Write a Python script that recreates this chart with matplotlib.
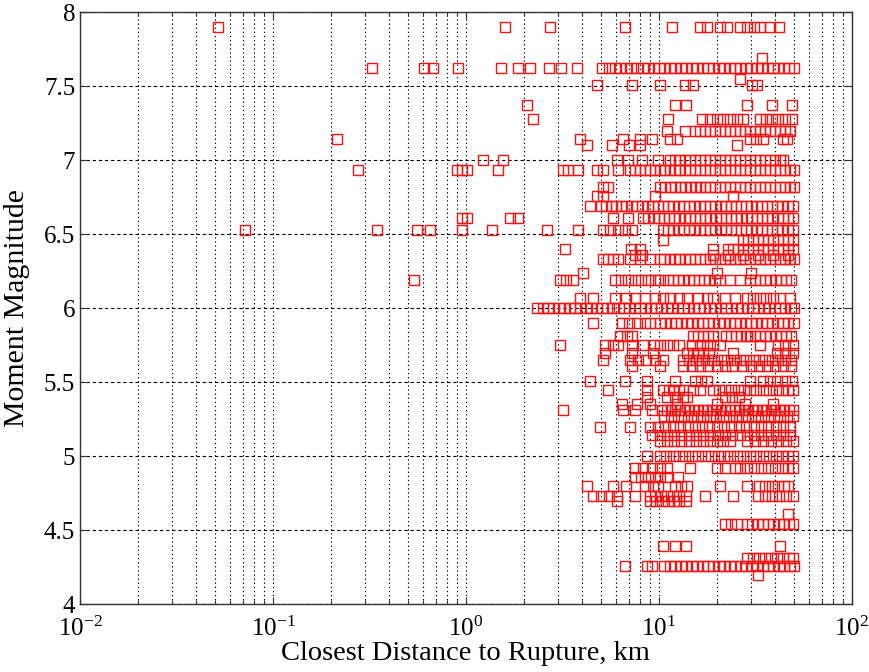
import matplotlib
matplotlib.use("Agg")
import matplotlib.pyplot as plt
import numpy as np
from matplotlib.ticker import LogLocator, FixedLocator

plt.rcParams['font.family'] = ['Liberation Serif', 'DejaVu Serif']
plt.rcParams['mathtext.fontset'] = 'custom'
plt.rcParams['mathtext.rm'] = 'Liberation Serif'

# closest distance to rupture (km) for each magnitude
rrup_790 = [0.052, 1.59, 2.72, 6.66, 11.7, 16.3, 17.7, 20.7, 22.5, 26.3, 28.6, 31.0, 33.4, 37.6, 41.8]
rrup_769 = [34.2]
rrup_762 = [0.326, 0.61, 0.674, 0.91, 1.52, 1.86, 2.15, 2.69, 3.1, 3.76,
            5.1, 5.5, 5.9, 6.3, 6.8, 7.2, 7.7, 8.3, 8.8, 9.4, 10.0, 10.7, 11.4, 12.2, 13.0,
            13.9, 14.8, 15.8, 16.9, 18.0, 19.2, 20.5, 21.9, 23.3, 24.9, 26.5, 28.3, 30.2,
            32.2, 34.3, 36.6, 39.1, 41.7, 44.4, 47.4, 50.0]
rrup_755 = [26.3]
rrup_751 = [4.77, 7.25, 10.1, 13.6, 15.0, 30.3, 32.2]
rrup_737 = [2.07, 12.2, 13.9, 28.6, 38.5, 49.0]
rrup_728 = [2.22, 11.1, 16.7, 18.5, 20.0, 21.5, 23.3, 25.3, 27.3, 33.3, 35.8, 38.5, 41.5, 45.0, 49.0]
rrup_720 = [11.0, 13.6, 15.4, 16.3, 17.3, 18.4, 19.5, 20.7, 22.0, 23.3, 24.8, 26.3, 27.9,
            29.6, 31.4, 33.4, 35.4, 37.6, 39.9, 42.4, 45.0, 47.7]
rrup_714 = [0.215, 3.90, 6.5, 7.97, 9.2, 11.4, 12.4, 29.6, 31.8, 34.6, 43.9, 46.0]
rrup_710 = [4.24, 5.7, 7.0, 8.0, 25.3]
rrup_700 = [1.22, 1.55, 6.06, 6.95, 8.2, 9.9, 11.4, 12.1, 12.8, 13.6, 14.5, 15.4, 16.3, 17.3,
            18.4, 19.5, 20.7, 22.0, 23.3, 24.8, 26.3, 27.9, 29.6, 31.4, 33.4, 35.4, 37.6,
            39.9, 42.4, 44.0]
rrup_693 = [0.276, 0.898, 0.95, 1.01, 1.46, 3.18, 3.4, 3.80, 4.77, 5.13, 6.13,
            7.07, 7.5, 8.0, 8.5, 9.0, 9.5, 10.1, 10.7, 11.4, 12.1, 12.8, 13.6, 14.5, 15.4,
            16.3, 17.3, 18.4, 19.5, 20.7, 22.0, 23.3, 24.8, 26.3, 27.9, 29.6, 31.4, 33.4,
            35.4, 37.6, 39.9, 42.4, 45.0, 47.7, 50.0]
rrup_682 = [5.13, 5.44, 10.1, 10.8, 11.5, 12.2, 12.9, 13.7, 14.6, 15.5, 16.4, 17.4, 18.5,
            19.6, 20.8, 22.1, 23.4, 24.9, 26.4, 28.0, 29.7, 31.5, 33.5, 35.5, 37.7, 40.0,
            42.5, 45.1, 47.8, 50.0]
rrup_676 = [4.77, 5.13, 9.53, 24.2]
rrup_669 = [4.39, 5.0, 5.3, 5.7, 6.0, 6.4, 6.8, 7.3, 7.7, 8.2, 8.8, 9.3, 9.9, 10.5, 11.2,
            11.9, 12.7, 13.5, 14.4, 15.3, 16.3, 17.3, 18.4, 19.6, 20.9, 22.2, 23.6, 25.1,
            26.7, 28.4, 30.2, 32.1, 34.1, 36.3, 38.6, 41.1, 43.7, 46.5, 49.4]
rrup_661 = [0.95, 1.01, 1.69, 1.86, 5.78, 6.9, 8.3, 8.8, 9.4, 10.0, 10.6, 11.3, 12.0, 12.8,
            13.6, 14.5, 15.4, 16.4, 17.4, 18.5, 19.7, 21.0, 22.3, 23.7, 25.2, 26.8, 28.5,
            30.3, 32.3, 34.3, 36.5, 38.8, 41.3, 43.9, 46.7, 49.6]
rrup_653 = [0.0716, 0.346, 0.557, 0.651, 0.96, 1.36, 2.63, 3.8, 5.13, 5.56, 6.13, 6.66, 7.24,
            10.5, 11.2, 11.9, 12.7, 13.5, 14.4, 15.3, 16.3, 17.3, 18.4, 19.6, 20.9, 22.2,
            23.6, 25.1, 26.7, 28.4, 30.2, 32.1, 34.1, 36.3, 38.6, 41.1, 43.7, 46.5, 49.4]
rrup_646 = [10.5, 27.2, 28.9, 30.7, 32.6, 34.6, 36.7, 39.0, 41.4, 43.9, 46.6, 49.5]
rrup_640 = [3.26, 7.2, 8.0, 19.0, 22.8, 24.2, 25.7, 27.2, 28.9, 30.7, 32.6, 34.6, 36.7,
            39.0, 41.4, 43.9, 46.6, 49.5]
rrup_636 = [7.5, 8.2, 19.0, 22.8, 27.2, 32.6, 39.0, 46.6]
rrup_633 = [5.13, 5.44, 5.78, 6.13, 7.07, 7.97, 8.98, 10.1, 10.7, 11.4, 12.1, 12.8, 13.6,
            14.5, 15.4, 16.3, 17.3, 18.4, 19.5, 20.7, 22.0, 23.3, 24.8, 26.3, 27.9, 29.6,
            31.4, 33.4, 35.4, 37.6, 39.9, 42.4, 45.0, 47.7, 50.0]
rrup_624 = [4.04, 20.0, 30.0]
rrup_619 = [0.54, 3.07, 3.3, 3.58, 5.91, 6.4, 6.9, 7.5, 8.1, 8.8, 9.5, 10.1, 11.1, 11.8,
            12.6, 13.4, 14.3, 15.2, 16.2, 17.2, 18.3, 19.5, 20.7, 23.3, 26.3, 29.6, 31.5,
            33.5, 35.6, 37.9, 40.3, 42.9, 45.7, 48.6]
rrup_607 = [3.9, 4.55, 5.9, 6.8, 7.5, 8.5, 9.5, 10.5, 11.4, 12.8, 14.0, 15.9, 17.7, 19.0,
            22.0, 24.8, 28.6, 30.7, 33.4, 36.1, 39.0, 42.4, 47.7]
rrup_600 = [2.33, 2.5, 2.66, 2.84, 3.03, 3.23, 3.45, 3.68, 3.92, 4.18, 4.46, 4.76, 5.08,
            5.4, 5.8, 6.2, 6.6, 7.0, 7.5, 8.0, 8.5, 9.1, 9.7, 10.3, 11.0, 11.7, 12.5, 13.3,
            14.2, 15.2, 16.2, 17.2, 18.4, 19.6, 20.9, 22.3, 23.8, 25.4, 27.1, 28.9, 30.8,
            32.8, 35.0, 37.3, 39.8, 42.5, 45.3, 48.3, 50.0]
rrup_590 = [4.55, 6.43, 7.0, 7.7, 8.5, 9.0, 10.1, 10.8, 11.5, 12.3, 13.1, 14.0, 14.9, 15.9,
            16.9, 18.0, 19.2, 20.5, 21.9, 23.3, 24.8, 26.5, 28.2, 30.1, 32.0, 34.1, 36.4,
            38.8, 41.3, 44.0, 46.9, 50.0]
rrup_581 = [6.28, 6.82, 7.24, 15.0, 16.0, 17.0, 18.0, 19.0, 22.3, 23.7, 25.2, 26.8, 28.6,
            29.6, 31.5, 33.5, 35.6, 37.9, 40.3, 42.9, 45.7, 48.6]
rrup_575 = [3.07, 5.25, 5.78, 6.13, 7.24, 8.26, 9.4, 10.1, 11.0, 11.9, 12.8, 14.8, 16.3,
            17.7, 19.0, 20.7, 33.4, 41.4, 45.0, 49.5]
rrup_570 = [5.25, 7.24, 9.3, 14.0, 15.0, 16.0, 17.0, 18.2, 24.2, 41.0, 45.0, 49.5]
rrup_565 = [5.13, 7.07, 7.8, 8.6, 9.5, 10.5, 13.3, 14.3, 15.5, 16.7, 18.0, 19.4, 21.0,
            22.6, 24.4, 26.3, 28.4, 30.7, 33.1, 35.7, 38.5, 41.6, 44.9, 48.4]
rrup_561 = [7.24, 10.1, 13.3, 14.8, 16.3, 18.0, 20.0, 22.0, 24.0, 27.2, 30.0, 33.0, 36.5,
            40.0, 44.0, 48.5]
rrup_551 = [4.39, 6.66, 8.66, 12.1, 15.4, 16.5, 17.7, 29.6, 34.6, 37.6, 41.0, 44.9, 49.0]
rrup_545 = [5.44, 8.66, 10.5, 11.3, 12.0, 12.8, 13.3, 15.0, 16.3, 19.0, 20.5, 22.0, 23.8,
            25.7, 27.8, 29.6, 32.0, 34.6, 37.3, 40.3, 43.5, 47.0, 49.5]
rrup_540 = [8.66, 11.0, 12.1, 13.3, 14.0, 22.0, 24.0, 26.0]
rrup_535 = [6.43, 7.7, 8.98, 12.4, 20.0, 27.9, 39.0]
rrup_531 = [3.18, 6.5, 7.5, 9.2, 10.4, 11.0, 11.6, 12.2, 12.9, 13.6, 14.4, 15.2, 16.0, 16.9,
            17.8, 18.8, 19.9, 21.0, 22.1, 23.4, 24.7, 26.0, 27.5, 29.0, 30.6, 32.3, 34.1,
            36.0, 38.0, 40.1, 42.4, 44.7, 47.2, 49.8]
rrup_527 = [10.7, 11.6, 12.5, 13.5, 14.6, 15.8, 17.0, 18.4, 19.8, 21.4, 23.1, 25.0, 27.0,
            29.1, 31.4, 33.9, 36.6, 39.5, 42.7, 46.1, 49.7]
rrup_520 = [4.94, 7.07, 8.98, 9.9, 10.8, 11.8, 12.9, 14.1, 15.4, 16.8, 18.3, 20.0, 21.8,
            23.8, 26.0, 28.4, 31.0, 33.8, 36.9, 40.3, 44.0, 48.0]
rrup_514 = [9.2, 10.1, 11.0, 12.0, 13.1, 14.3, 15.6, 17.0, 18.5, 20.2, 22.0, 24.0, 26.2,
            28.5, 31.1, 33.9, 37.0, 40.3, 44.0, 48.0]
rrup_510 = [10.1, 11.0, 12.0, 13.1, 14.3, 15.6, 17.0, 18.5, 20.0, 21.5, 23.3, 28.6, 31.5,
            34.6, 38.0, 41.7, 45.8, 49.5]
rrup_500 = [8.66, 10.1, 10.9, 11.8, 12.7, 13.7, 14.8, 16.0, 17.3, 18.7, 20.2, 21.8, 23.5,
            25.4, 27.4, 29.6, 32.0, 34.5, 37.3, 40.3, 43.5, 47.0, 49.7]
rrup_492 = [7.5, 8.3, 9.2, 10.2, 11.0, 14.5, 20.0, 22.0, 24.8, 26.3, 28.6, 31.0, 33.7,
            36.6, 39.8, 43.3, 47.0, 49.8]
rrup_486 = [7.5, 8.1, 8.8, 9.6, 10.1, 11.0, 12.5]
rrup_480 = [4.24, 5.78, 6.8, 8.5, 9.3, 9.9, 12.1, 13.0, 14.0, 20.7, 28.6, 33.0, 35.5, 38.5,
            41.5, 44.5, 47.0]
rrup_473 = [4.55, 5.0, 5.5, 6.1, 7.5, 8.98, 9.6, 10.3, 11.0, 11.8, 12.8, 13.9, 17.3, 24.2,
            32.6, 35.5, 38.5, 42.0, 45.5, 49.5]
rrup_470 = [6.1, 9.0, 9.7, 10.4, 11.2, 12.0, 12.8, 13.9]
rrup_461 = [46.6]
rrup_454 = [22.0, 23.7, 25.3, 28.6, 30.5, 32.5, 34.6, 36.9, 39.3, 41.9, 44.6, 47.5, 49.8]
rrup_439 = [10.5, 12.1, 13.9, 42.4]
rrup_431 = [28.6, 30.7, 33.0, 35.5, 38.2, 41.1, 44.2, 47.5, 49.8]
rrup_426 = [6.66, 8.66, 9.2, 10.7, 11.4, 12.2, 13.0, 13.9, 14.8, 15.8, 16.9, 18.0, 19.2,
            20.5, 21.9, 23.3, 24.9, 26.6, 28.4, 30.3, 32.3, 34.5, 36.8, 39.3, 41.9, 44.7,
            47.7, 50.0]
rrup_420 = [32.6]

events = [
    (7.90, rrup_790), (7.69, rrup_769), (7.62, rrup_762), (7.55, rrup_755),
    (7.51, rrup_751), (7.37, rrup_737), (7.28, rrup_728), (7.20, rrup_720),
    (7.14, rrup_714), (7.10, rrup_710), (7.00, rrup_700), (6.93, rrup_693),
    (6.82, rrup_682), (6.76, rrup_676), (6.69, rrup_669), (6.61, rrup_661),
    (6.53, rrup_653), (6.46, rrup_646), (6.40, rrup_640), (6.36, rrup_636),
    (6.33, rrup_633), (6.24, rrup_624), (6.19, rrup_619), (6.07, rrup_607),
    (6.00, rrup_600), (5.90, rrup_590), (5.81, rrup_581), (5.75, rrup_575),
    (5.70, rrup_570), (5.65, rrup_565), (5.61, rrup_561), (5.51, rrup_551),
    (5.45, rrup_545), (5.40, rrup_540), (5.35, rrup_535), (5.31, rrup_531),
    (5.27, rrup_527), (5.20, rrup_520), (5.14, rrup_514), (5.10, rrup_510),
    (5.00, rrup_500), (4.92, rrup_492), (4.86, rrup_486), (4.80, rrup_480),
    (4.73, rrup_473), (4.70, rrup_470), (4.61, rrup_461), (4.54, rrup_454),
    (4.39, rrup_439), (4.31, rrup_431), (4.26, rrup_426), (4.20, rrup_420),
]

dist = np.concatenate([np.array(r, dtype=float) for m, r in events])
mag = np.concatenate([np.full(len(r), m) for m, r in events])

fig = plt.figure(figsize=(8.7, 6.72), dpi=100)
ax = fig.add_axes([0.092, 0.101, 0.887, 0.881])

ax.plot(dist, mag, 's', ms=7.0, mfc='none', mec='#ff1010', mew=1.0, zorder=3)

ax.set_xscale('log')
ax.set_xlim(1e-2, 1e2)
ax.set_ylim(4, 8)
ax.yaxis.set_major_locator(FixedLocator(np.arange(4, 8.01, 0.5)))
ax.set_yticklabels(['4', '4.5', '5', '5.5', '6', '6.5', '7', '7.5', '8'])
ax.xaxis.set_major_locator(LogLocator(base=10, numticks=10))
ax.xaxis.set_minor_locator(LogLocator(base=10, subs=np.arange(2, 10), numticks=20))

# MATLAB-like grid: dashed horizontals, dotted verticals on every log step
ax.grid(True, which='major', axis='y', color='black', linestyle=(0, (3, 2.5)), lw=0.8)
ax.grid(True, which='both', axis='x', color='black', linestyle=(0, (1.2, 2.5)), lw=0.8)
ax.set_axisbelow(True)

ax.tick_params(which='both', direction='in', top=True, right=True, labelsize=18,
               width=0.8, color='#333333')
ax.tick_params(which='major', length=5)
ax.tick_params(which='minor', length=3)
ax.tick_params(axis='x', pad=9)
for s in ax.spines.values():
    s.set_linewidth(1.0)
    s.set_color('#333333')

ax.set_xlabel('Closest Distance to Rupture, km', fontsize=20.5, labelpad=0)
ax.set_ylabel('Moment Magnitude', fontsize=21.5, labelpad=10)

fig.savefig('out.png', dpi=100)
